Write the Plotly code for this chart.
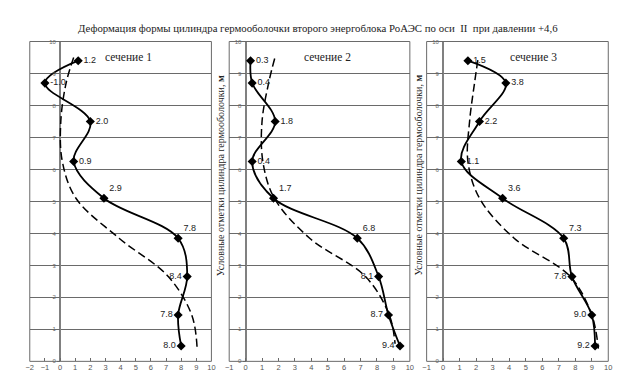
import plotly.graph_objects as go

# ---- data ----
levels = [9.4, 8.7, 7.5, 6.25, 5.1, 3.85, 2.65, 1.45, 0.48]
sec1 = [1.2, -1.0, 2.0, 0.9, 2.9, 7.8, 8.4, 7.8, 8.0]
sec2 = [0.3, 0.4, 1.8, 0.4, 1.7, 6.8, 8.1, 8.7, 9.4]
sec3 = [1.5, 3.8, 2.2, 1.1, 3.6, 7.3, 7.8, 9.0, 9.2]

dash1_y = [9.5, 8.7, 7.5, 6.25, 5.1, 3.85, 2.65, 1.45, 0.45]
dash1_x = [0.9, 0.4, 0.05, 0.15, 1.05, 3.9, 7.15, 8.7, 9.05]
dash2_y = [9.47, 8.7, 7.5, 6.25, 5.1, 3.85, 2.65, 1.45, 0.55]
dash2_x = [1.77, 1.4, 1.0, 1.05, 1.75, 3.9, 7.3, 8.75, 9.1]
dash3_y = [9.42, 8.7, 7.5, 6.25, 5.1, 3.85, 2.65, 1.45, 0.4]
dash3_x = [2.1, 1.9, 1.6, 1.5, 2.2, 4.3, 7.7, 9.0, 9.4]

section_names = ["сечение 1", "сечение 2", "сечение 3"]
x_ranges = [[-2, 10], [-1, 10], [-1, 10]]
title_text = "Деформация формы цилиндра гермооболочки второго энергоблока РоАЭС по оси  II  при давлении +4,6"
ytitle_text = "Условные отметки цилиндра гермооболочки, <b>м</b>"

W, H = 626, 378
panels_px = [(18, 202), (220, 403), (420, 604)]
section_px = [118, 320, 528]
top_px, bot_px = 31, 356

fig = go.Figure()

solids = [sec1, sec2, sec3]
dashes = [(dash1_x, dash1_y), (dash2_x, dash2_y), (dash3_x, dash3_y)]
pos = ["middle right"] * 4 + ["top right", "top right", "middle left", "middle left", "middle left"]

grid_col = "#6a6a6a"
for i in range(3):
    xa = "x" if i == 0 else f"x{i+1}"
    ya = "y" if i == 0 else f"y{i+1}"
    dx, dy = dashes[i]
    fig.add_trace(go.Scatter(
        x=dx, y=dy, xaxis=xa, yaxis=ya, mode="lines",
        line=dict(color="black", width=1.5, dash="8px,4px", shape="spline", smoothing=1.0),
        hoverinfo="skip", showlegend=False))
    fig.add_trace(go.Scatter(
        x=solids[i], y=levels, xaxis=xa, yaxis=ya, mode="lines+markers+text",
        line=dict(color="black", width=1.8, shape="spline", smoothing=1.0),
        marker=dict(symbol="diamond", size=7, color="black"),
        text=[f"{v:.1f}" for v in solids[i]], textposition=pos,
        textfont=dict(family="Liberation Sans, Arial", size=9, color="#222"),
        showlegend=False))

    x0p, x1p = panels_px[i]
    r0, r1 = x_ranges[i]
    zero_px = x0p + (0 - r0) / (r1 - r0) * (x1p - x0p)
    xkey = "xaxis" if i == 0 else f"xaxis{i+1}"
    ykey = "yaxis" if i == 0 else f"yaxis{i+1}"
    fig.update_layout(**{
        xkey: dict(domain=[x0p / W, x1p / W], range=x_ranges[i], dtick=1, anchor=ya,
                   showgrid=False, zeroline=True, zerolinecolor="#808080", zerolinewidth=1.5,
                   ticks="inside", ticklen=3, tickcolor=grid_col,
                   tickfont=dict(family="Liberation Sans, Arial", size=7.5, color="#555"),
                   showline=False, fixedrange=True),
        ykey: dict(domain=[1 - bot_px / H, 1 - top_px / H], range=[0, 10], dtick=1,
                   anchor="free", position=zero_px / W,
                   showgrid=True, gridcolor=grid_col, gridwidth=1, zeroline=False,
                   ticks="outside", ticklen=3, tickcolor=grid_col,
                   tickfont=dict(family="Liberation Sans, Arial", size=6, color="#666"),
                   showline=False, fixedrange=True),
    })
    fig.add_shape(type="rect", xref="paper", yref="paper",
                  x0=x0p / W, x1=x1p / W, y0=1 - bot_px / H, y1=1 - top_px / H,
                  line=dict(color=grid_col, width=1), layer="above")
    fig.add_annotation(text=section_names[i], xref="paper", yref="paper",
                       x=section_px[i] / W, y=1 - 47 / H, xanchor="center", yanchor="middle",
                       showarrow=False,
                       font=dict(family="Liberation Serif, Times New Roman", size=11.5, color="#222"))

fig.add_annotation(text=title_text, xref="paper", yref="paper", x=310 / W, y=1 - 17 / H,
                   xanchor="center", yanchor="middle", showarrow=False,
                   font=dict(family="Liberation Serif, Times New Roman", size=10.8, color="#222"))
for xp in (211.5, 411.5):
    fig.add_annotation(text=ytitle_text, xref="paper", yref="paper", x=xp / W, y=1 - 167 / H,
                       xanchor="center", yanchor="middle",
                       textangle=-90, showarrow=False,
                       font=dict(family="Liberation Serif, Times New Roman", size=10, color="#222"))

fig.update_layout(width=W, height=H, margin=dict(l=0, r=0, t=0, b=0),
                  paper_bgcolor="white", plot_bgcolor="white", showlegend=False)

fig.write_html("out.html")
